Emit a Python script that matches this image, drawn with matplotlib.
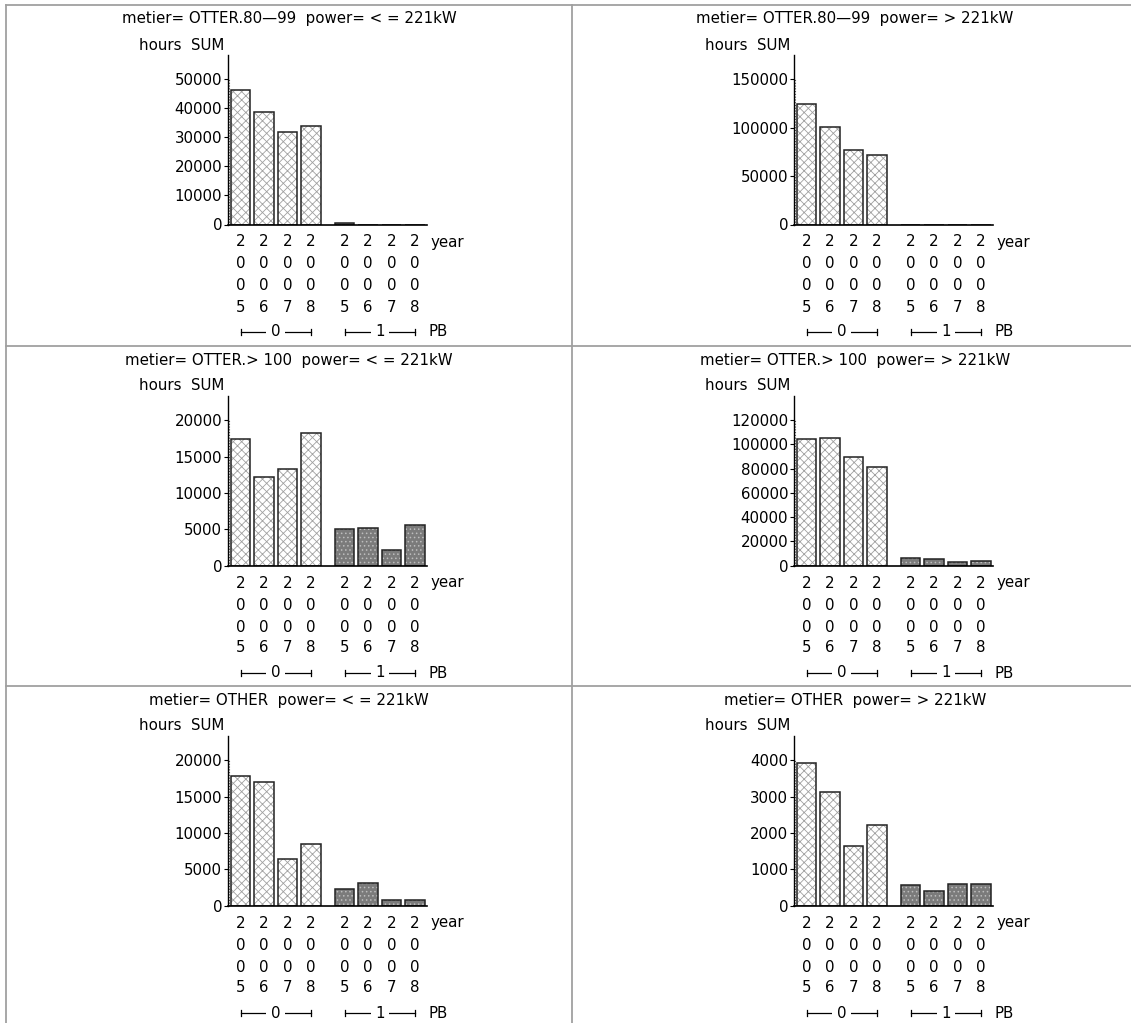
import numpy as np
import matplotlib
matplotlib.use("Agg")
import matplotlib.pyplot as plt
from matplotlib.lines import Line2D

plt.rcParams['font.family'] = ['DejaVu Sans']
plt.rcParams['hatch.linewidth'] = 0.6

W, H = 1131, 1023
FS = 10.8

years = ['2005', '2006', '2007', '2008']
pb_groups = ['0', '1']

titles = [
    'metier= OTTER.80\u201499  power= < = 221kW',
    'metier= OTTER.80\u201499  power= > 221kW',
    'metier= OTTER.> 100  power= < = 221kW',
    'metier= OTTER.> 100  power= > 221kW',
    'metier= OTHER  power= < = 221kW',
    'metier= OTHER  power= > 221kW',
]

# hours SUM per year, PB=0 and PB=1
otter80_small_pb0 = [46200, 38600, 31700, 34000]
otter80_small_pb1 = [550, 0, 0, 0]
otter80_large_pb0 = [124300, 100300, 77300, 71400]
otter80_large_pb1 = [0, 0, 0, 0]
otter100_small_pb0 = [17400, 12140, 13260, 18240]
otter100_small_pb1 = [4980, 5210, 2190, 5540]
otter100_large_pb0 = [104400, 105500, 89700, 81000]
otter100_large_pb1 = [6000, 5000, 3000, 4100]
other_small_pb0 = [17860, 16950, 6370, 8430]
other_small_pb1 = [2290, 3080, 780, 780]
other_large_pb0 = [3910, 3125, 1630, 2225]
other_large_pb1 = [560, 405, 600, 600]

# y tick step and top tick for each panel
tick_steps = [10000, 50000, 5000, 20000, 5000, 1000]
tick_tops = [50000, 150000, 20000, 120000, 20000, 4000]

panel_values = [
    (otter80_small_pb0, otter80_small_pb1),
    (otter80_large_pb0, otter80_large_pb1),
    (otter100_small_pb0, otter100_small_pb1),
    (otter100_large_pb0, otter100_large_pb1),
    (other_small_pb0, other_small_pb1),
    (other_large_pb0, other_large_pb1),
]

cell_left = [6, 572]
cell_top = [5, 346, 686]

fig = plt.figure(figsize=(W / 100, H / 100), dpi=100)

# cell borders
gcol = '#a0a0a0'
for seg in [((6, W), (5, 5)), ((6, 6), (5, H)), ((572, 572), (5, H)),
            ((6, W), (346, 346)), ((6, W), (686, 686))]:
    xs = [x / W for x in seg[0]]
    ys = [1 - y / H for y in seg[1]]
    fig.add_artist(Line2D(xs, ys, color=gcol, lw=1.3, transform=fig.transFigure))

pos0 = np.arange(4)
pos1 = np.arange(4) + 4.45
bw = 0.83

for k in range(6):
    cx = cell_left[k % 2]
    cy = cell_top[k // 2]
    ax_l, ax_w = cx + 221.7, 199
    ax_b, ax_h = cy + 219.5, 170
    ax = fig.add_axes([ax_l / W, 1 - ax_b / H, ax_w / W, ax_h / H])

    v0, v1 = panel_values[k]
    step, top = tick_steps[k], tick_tops[k]

    ax.bar(pos0, v0, width=bw, color='white', edgecolor='#a0a0a0', hatch='xxxx', lw=0)
    ax.bar(pos1, v1, width=bw, color='#7b7b7b', edgecolor='#bdbdbd', hatch='....', lw=0)
    ax.bar(np.concatenate([pos0, pos1]), list(v0) + list(v1), width=bw,
           fill=False, edgecolor='#222222', lw=1.1)

    ax.set_xlim(-0.55, 7.95)
    ax.set_ylim(0, top * 1.17)
    ax.set_yticks(np.arange(0, top + 1, step))
    ax.set_yticklabels([str(int(t)) for t in np.arange(0, top + 1, step)])
    ax.tick_params(axis='y', length=3, width=0.8, pad=1, labelsize=FS)
    ax.set_xticks([])
    for s in ['top', 'right']:
        ax.spines[s].set_visible(False)
    ax.spines['left'].set_linewidth(1.0)
    ax.spines['bottom'].set_linewidth(1.2)
    ax.patch.set_alpha(0)

    # dotted minor axis line
    ax.plot([0.006, 0.006], [0, top], color='#555555', lw=0.8, ls=(0, (1, 1.5)),
            transform=ax.get_yaxis_transform(), clip_on=False)

    # stacked year digits under each bar
    rows = [17.5, 39.5, 61.5, 82.5]
    for p, yr in zip(list(pos0) + list(pos1), years + years):
        for r, ch in zip(rows, yr):
            ax.annotate(ch, (p, 0), xycoords=('data', 'axes fraction'),
                        xytext=(0, -r), textcoords='offset pixels',
                        ha='center', va='center', fontsize=FS)
    ax.annotate('year', (1, 0), xycoords='axes fraction', xytext=(4, -rows[0]),
                textcoords='offset pixels', ha='left', va='center', fontsize=FS)

    # PB group brackets
    gy = -107.5 / ax_h
    cap = 3 / ax_h
    for pos, lab in zip([pos0, pos1], pb_groups):
        a, b = pos[0], pos[-1]
        tr = ax.get_xaxis_transform()
        ax.plot([a, b], [gy, gy], color='black', lw=0.9, transform=tr, clip_on=False)
        ax.plot([a, a], [gy - cap, gy + cap], color='black', lw=0.9, transform=tr, clip_on=False)
        ax.plot([b, b], [gy - cap, gy + cap], color='black', lw=0.9, transform=tr, clip_on=False)
        ax.text((a + b) / 2, gy, lab, transform=tr, ha='center', va='center', fontsize=FS,
                bbox=dict(boxstyle='square,pad=0.3', fc='white', ec='none'))
    ax.annotate('PB', (1, 0), xycoords='axes fraction', xytext=(2, -107.5),
                textcoords='offset pixels', ha='left', va='center', fontsize=FS)

    fig.text((ax_l - 3) / W, 1 - (cy + 40) / H, 'hours  SUM', ha='right', va='center',
             fontsize=FS)
    fig.text((cx + 283) / W, 1 - (cy + 14) / H, titles[k], ha='center', va='center',
             fontsize=FS)

fig.savefig('out.png', dpi=100, facecolor='white')
